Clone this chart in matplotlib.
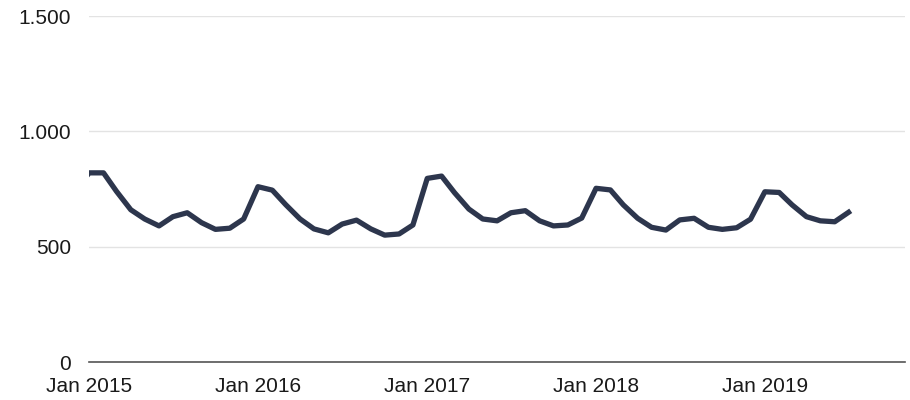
import numpy as np
import matplotlib.pyplot as plt
import matplotlib.dates as mdates
import matplotlib.ticker as mticker

plt.rcParams['font.family'] = ['Liberation Sans', 'DejaVu Sans']

# monthly values Dec 2014 - Jul 2019 (Dec 2014 is cut off by the axis)
months = np.arange('2014-12', '2019-08', dtype='datetime64[M]').astype('datetime64[D]')
values = [
    740,
    820, 820, 740, 660, 620, 590, 630, 647, 604, 575, 580, 620,
    760, 745, 682, 620, 577, 560, 598, 615, 577, 550, 555, 594,
    796, 806, 734, 663, 620, 612, 647, 656, 612, 590, 594, 624,
    753, 746, 681, 623, 584, 572, 616, 623, 584, 575, 582, 619,
    738, 735, 681, 630, 612, 608, 649,
]
yticks = [0, 500, 1000, 1500]
xtick_years = [2015, 2016, 2017, 2018, 2019]

fig, ax = plt.subplots(figsize=(9.1, 4), dpi=100)
fig.subplots_adjust(left=0.098, right=0.995, top=0.96, bottom=0.095)

ax.plot(months, values, color='#2d364d', linewidth=3.8)

ax.set_ylim(0, 1500)
ax.set_xlim(np.datetime64('2015-01-01'), np.datetime64('2019-11-01'))
ax.set_yticks(yticks)
ax.yaxis.set_major_formatter(mticker.FuncFormatter(lambda v, p: f"{int(v):,}".replace(',', '.')))
ax.set_xticks([np.datetime64(f'{y}-01-01') for y in xtick_years])
ax.xaxis.set_major_formatter(mdates.DateFormatter('Jan %Y'))

ax.grid(axis='y', color='#e3e3e3', linewidth=1)
ax.set_axisbelow(True)
for s in ['top', 'right', 'left']:
    ax.spines[s].set_visible(False)
ax.spines['bottom'].set_color('#555555')
ax.spines['bottom'].set_linewidth(1.2)
ax.tick_params(axis='both', length=0, labelsize=15, colors='#1a1a1a')
ax.tick_params(axis='y', pad=13)
ax.tick_params(axis='x', pad=11)

plt.savefig('out.png')
